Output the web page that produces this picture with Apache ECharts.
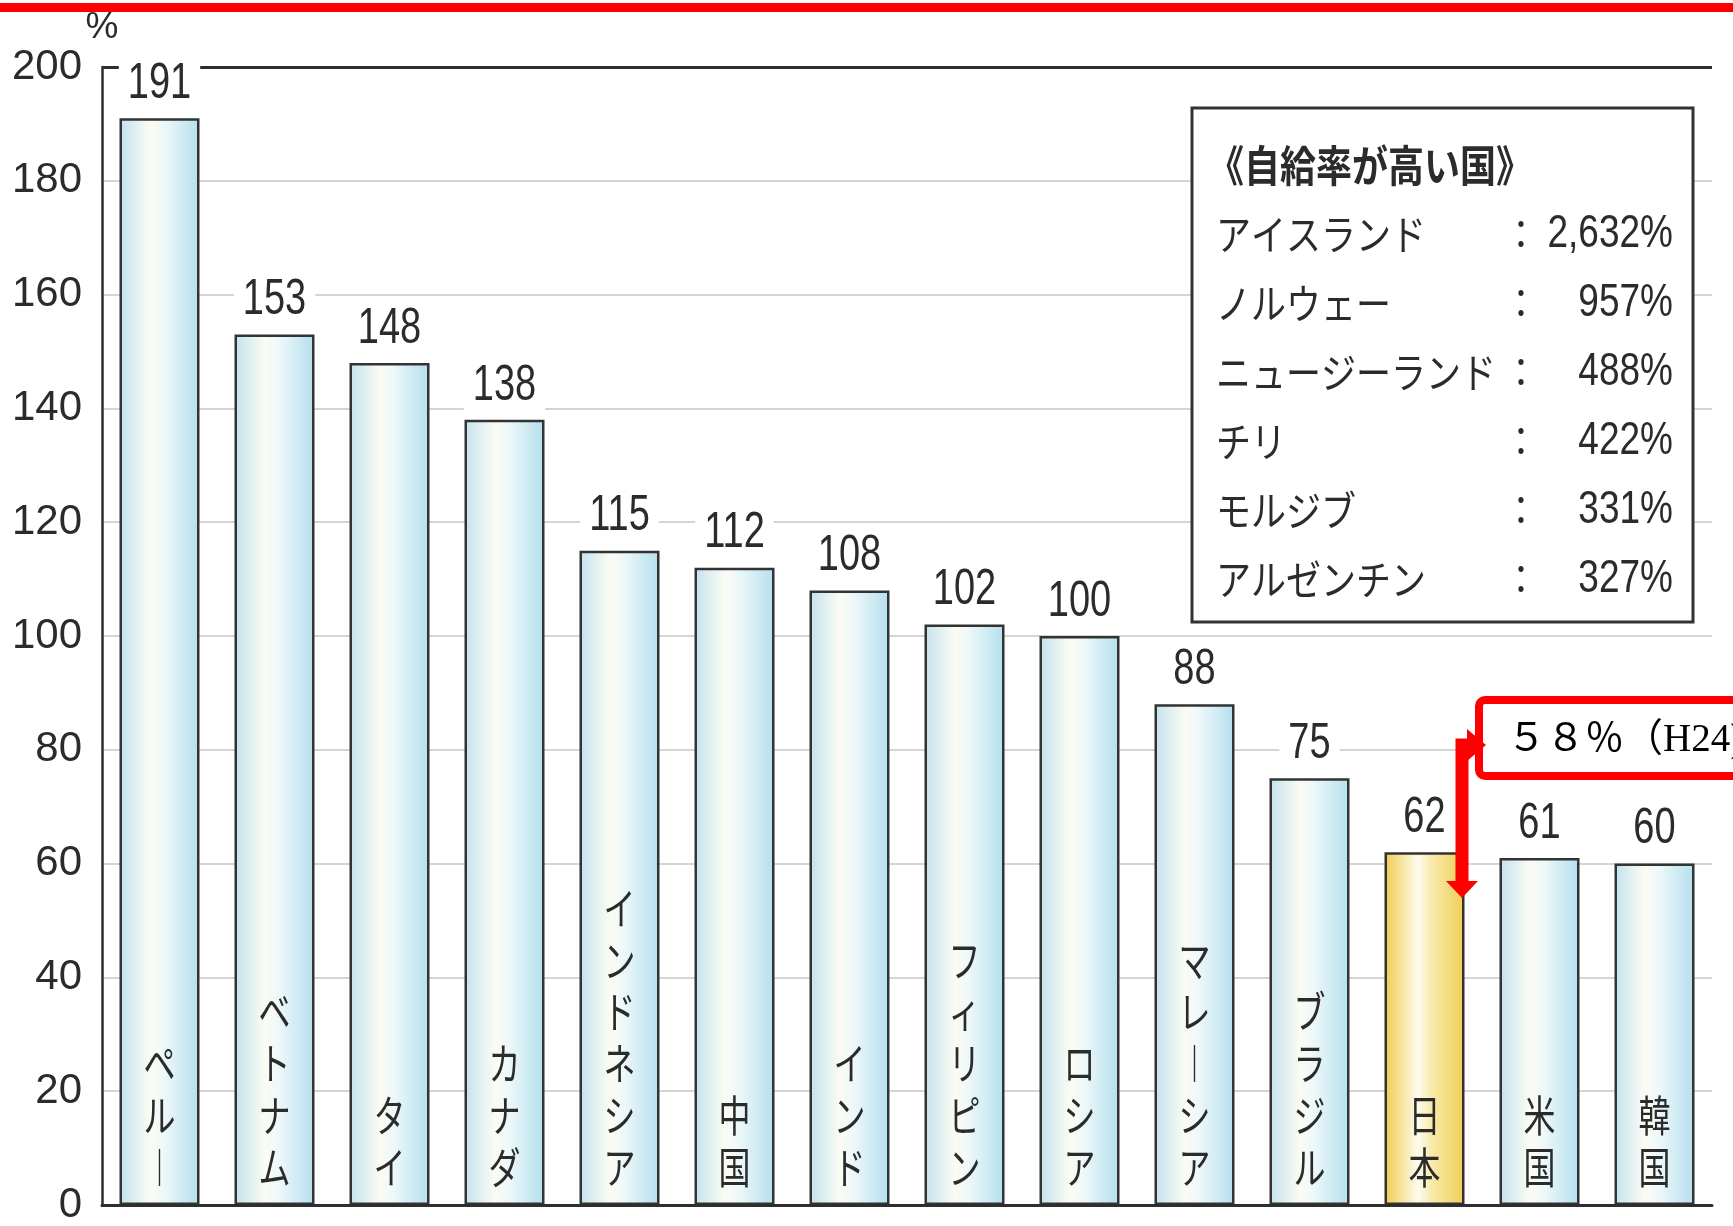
<!DOCTYPE html>
<html>
<head>
<meta charset="utf-8">
<script src="https://cdn.jsdelivr.net/npm/echarts@6/dist/echarts.min.js"></script>
<style>
  html, body { margin: 0; padding: 0; background: #ffffff; }
  #chart { width: 1733px; height: 1226px; }
</style>
</head>
<body>
<div id="chart"></div>
<script>
// Food self-sufficiency rate (calorie basis), %
const countries = ['ペルー', 'ベトナム', 'タイ', 'カナダ', 'インドネシア', '中国', 'インド',
                   'フィリピン', 'ロシア', 'マレーシア', 'ブラジル', '日本', '米国', '韓国'];
const rates = [191, 153, 148, 138, 115, 112, 108, 102, 100, 88, 75, 62, 61, 60];
const highlighted = '日本';

// Inset list of countries with very high rates
const insetTitle = '《自給率が高い国》';
const insetNames = ['アイスランド', 'ノルウェー', 'ニュージーランド', 'チリ', 'モルジブ', 'アルゼンチン'];
const insetValues = ['2,632%', '957%', '488%', '422%', '331%', '327%'];

// Callout for Japan's latest figure
const japanNote = '５８％（H24)';

const SANS = "'Liberation Sans', Arial, sans-serif";
const CJK = "'Noto Sans CJK JP', 'Noto Sans', sans-serif";
const INK = '#2b2b2b';

const blueFill = new echarts.graphic.LinearGradient(0, 0, 1, 0, [
  { offset: 0, color: '#c3e2ee' },
  { offset: 0.38, color: '#fbfcf3' },
  { offset: 0.55, color: '#eef8fa' },
  { offset: 1, color: '#b3dfee' }
]);
const goldFill = new echarts.graphic.LinearGradient(0, 0, 1, 0, [
  { offset: 0, color: '#f0cc50' },
  { offset: 0.42, color: '#fdfbec' },
  { offset: 0.6, color: '#f8e9a8' },
  { offset: 1, color: '#f0ce55' }
]);

const barData = rates.map((v, i) => ({
  value: v,
  itemStyle: { color: countries[i] === highlighted ? goldFill : blueFill }
}));

// stack characters vertically; the long-vowel mark turns upright
const verticalText = (name) => name.split('').map(c => (c === 'ー' ? '︱' : c)).join('\n');

// value on top of each bar and the country name inside its foot,
// both set in a tall, narrow face
function renderBarText(params, api) {
  const idx = api.value(0);
  const val = api.value(1);
  const top = api.coord([idx, val]);
  const base = api.coord([idx, 0]);
  return {
    type: 'group',
    children: [
      {
        type: 'text', x: top[0], y: top[1] - 9, scaleY: 1.32,
        style: {
          text: String(val), fontSize: 38, fontFamily: SANS, fill: INK,
          align: 'center', verticalAlign: 'bottom',
          backgroundColor: '#ffffff', padding: [1, 9, 0, 9]
        }
      },
      {
        type: 'text', x: base[0], y: base[1] - 11, scaleY: 1.35,
        style: {
          text: verticalText(countries[idx]), fontSize: 32, lineHeight: 38.5,
          fontFamily: CJK, fill: INK, align: 'center', verticalAlign: 'bottom'
        }
      }
    ]
  };
}

const chart = echarts.init(document.getElementById('chart'), null, { renderer: 'canvas' });

const insetTop = 166, rowStep = 69, firstRow = 234;
const insetGraphics = [
  {
    type: 'rect', z: 100,
    shape: { x: 1192, y: 108, width: 501, height: 514 },
    style: { fill: '#ffffff', stroke: '#333333', lineWidth: 3 }
  },
  {
    type: 'text', z: 101, x: 1208, y: insetTop, scaleY: 1.2,
    style: { text: insetTitle, fontSize: 36, fontWeight: 'bold', fontFamily: CJK, fill: INK, verticalAlign: 'middle' }
  }
];
insetNames.forEach((name, i) => {
  const y = firstRow + i * rowStep;
  insetGraphics.push(
    { type: 'text', z: 101, x: 1216, y, scaleY: 1.18,
      style: { text: name, fontSize: 35, fontFamily: CJK, fill: INK, verticalAlign: 'middle' } },
    { type: 'text', z: 101, x: 1521, y, scaleY: 1.15,
      style: { text: '：', fontSize: 35, fontFamily: CJK, fill: INK, align: 'center', verticalAlign: 'middle' } },
    { type: 'text', z: 101, x: 1673, y, scaleY: 1.25,
      style: { text: insetValues[i], fontSize: 37, fontFamily: SANS, fill: INK, align: 'right', verticalAlign: 'middle' } }
  );
});

const calloutGraphics = [
  // red rule across the top
  { type: 'rect', z: 100, shape: { x: 0, y: 3, width: 1733, height: 9 }, style: { fill: '#ff0000' } },
  // callout box
  { type: 'rect', z: 100, shape: { x: 1479, y: 700, width: 300, height: 76, r: 6 },
    style: { fill: '#ffffff', stroke: '#ff0000', lineWidth: 8 } },
  { type: 'text', z: 101, x: 1507, y: 741,
    style: { text: japanNote, fontSize: 39, fontFamily: "'Liberation Serif', 'DejaVu Serif', 'Noto Sans CJK JP', serif",
             fill: '#000000', verticalAlign: 'middle' } },
  // elbow arrow linking the box to the Japan bar
  { type: 'polyline', z: 100, shape: { points: [[1470, 745], [1462, 745], [1462, 884]] },
    style: { stroke: '#ff0000', lineWidth: 13, fill: null } },
  { type: 'polygon', z: 100, shape: { points: [[1446, 881], [1478, 881], [1462, 898]] },
    style: { fill: '#ff0000' } },
  { type: 'polygon', z: 100, shape: { points: [[1467, 729], [1467, 761], [1486, 745]] },
    style: { fill: '#ff0000' } }
];

chart.setOption({
  backgroundColor: '#ffffff',
  animation: false,
  grid: { left: 102, right: 21, top: 67, bottom: 21, containLabel: false },
  xAxis: {
    type: 'category',
    data: countries,
    z: 10,
    axisLine: { lineStyle: { color: '#2e2e2e', width: 3 } },
    axisTick: { show: false },
    axisLabel: { show: false }
  },
  yAxis: {
    type: 'value',
    min: 0,
    max: 200,
    interval: 20,
    name: '%',
    nameLocation: 'end',
    nameGap: 21,
    nameTextStyle: { fontSize: 37, fontFamily: SANS, color: INK, align: 'center' },
    axisLine: { show: true, lineStyle: { color: '#2e2e2e', width: 2.5 } },
    axisTick: { show: false },
    axisLabel: { fontSize: 42, fontFamily: SANS, color: INK, margin: 20 },
    splitLine: { show: true, lineStyle: { color: '#d4d4d4', width: 2 } }
  },
  series: [
    {
      type: 'bar',
      data: barData,
      barWidth: 80,
      z: 2,
      itemStyle: { borderColor: '#333333', borderWidth: 2.5 },
      markLine: {
        silent: true,
        symbol: 'none',
        label: { show: false },
        lineStyle: { color: '#2e2e2e', width: 3, type: 'solid' },
        data: [{ yAxis: 200 }]
      }
    },
    {
      type: 'custom',
      z: 5,
      data: rates.map((v, i) => [i, v]),
      renderItem: renderBarText
    }
  ],
  graphic: { elements: insetGraphics.concat(calloutGraphics) }
});
</script>
</body>
</html>
